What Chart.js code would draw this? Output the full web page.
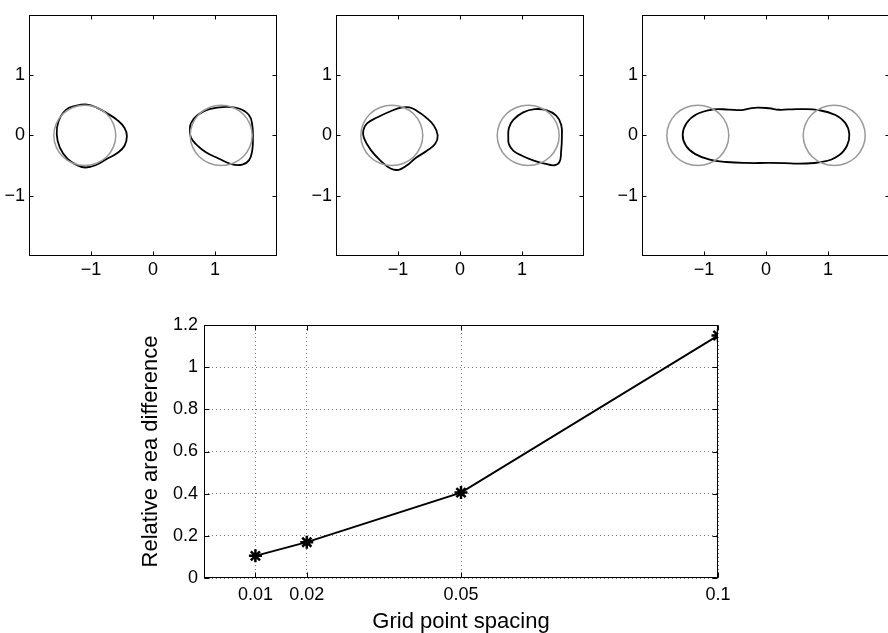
<!DOCTYPE html>
<html><head><meta charset="utf-8">
<script src="https://cdn.jsdelivr.net/npm/chart.js@4/dist/chart.umd.min.js"></script>
<style>
html,body{margin:0;padding:0;background:#fff;overflow:hidden;width:888px;height:633px;position:relative;}
canvas{position:absolute;}
</style></head><body>
<canvas id="p1" style="left:0px;top:0px" width="290" height="290"></canvas>
<canvas id="p2" style="left:307px;top:0px" width="290" height="290"></canvas>
<canvas id="p3" style="left:613px;top:0px" width="290" height="290"></canvas>
<canvas id="bottom" style="left:140px;top:300px" width="600" height="333"></canvas>
<script>
// ---------- data ----------
const panelTicks = [-1, 0, 1];

// reference circles (grey): centre ±1.1, radius 0.5
const circleLeft = [[-0.6,0],[-0.638,0.191],[-0.746,0.354],[-0.909,0.462],[-1.1,0.5],[-1.291,0.462],[-1.454,0.354],[-1.562,0.191],[-1.6,0],[-1.562,-0.191],[-1.454,-0.354],[-1.291,-0.462],[-1.1,-0.5],[-0.909,-0.462],[-0.746,-0.354],[-0.638,-0.191]];
const circleRight = [[1.6,0],[1.562,0.191],[1.454,0.354],[1.291,0.462],[1.1,0.5],[0.909,0.462],[0.746,0.354],[0.638,0.191],[0.6,0],[0.638,-0.191],[0.746,-0.354],[0.909,-0.462],[1.1,-0.5],[1.291,-0.462],[1.454,-0.354],[1.562,-0.191]];

// panel 1 computed shapes (black)
const shape1Left = [[-1.552,0.016],[-1.504,-0.199],[-1.381,-0.387],[-1.221,-0.495],[-1.088,-0.532],[-0.928,-0.495],[-0.741,-0.387],[-0.581,-0.296],[-0.459,-0.172],[-0.421,-0.011],[-0.459,0.124],[-0.581,0.258],[-0.741,0.366],[-0.901,0.457],[-1.061,0.511],[-1.248,0.489],[-1.408,0.42],[-1.525,0.23]];
const shape1Right = [[0.597,0.07],[0.613,-0.038],[0.693,-0.145],[0.853,-0.28],[1.067,-0.387],[1.28,-0.48],[1.44,-0.484],[1.547,-0.414],[1.6,-0.253],[1.611,-0.038],[1.6,0.177],[1.547,0.339],[1.387,0.446],[1.173,0.473],[0.907,0.435],[0.72,0.339],[0.613,0.205]];

// panel 2 computed shapes (black)
const shape2Left = [[-1.55,-0.04],[-1.44,-0.24],[-1.27,-0.43],[-1.12,-0.55],[-0.99,-0.57],[-0.86,-0.5],[-0.71,-0.37],[-0.54,-0.26],[-0.40,-0.14],[-0.36,0.0],[-0.42,0.16],[-0.55,0.3],[-0.7,0.41],[-0.82,0.465],[-0.95,0.46],[-1.12,0.4],[-1.33,0.3],[-1.5,0.2],[-1.56,0.08]];
const shape2Right = [[0.779,-0.038],[0.789,-0.145],[0.859,-0.253],[0.992,-0.333],[1.179,-0.414],[1.365,-0.468],[1.525,-0.495],[1.605,-0.441],[1.632,-0.253],[1.643,-0.038],[1.632,0.177],[1.552,0.328],[1.392,0.419],[1.205,0.435],[1.019,0.382],[0.859,0.258],[0.789,0.124]];

// panel 3 computed shape (black)
const shape3 = [[-1.344,0.016],[-1.291,-0.172],[-1.147,-0.306],[-0.907,-0.403],[-0.64,-0.441],[-0.32,-0.457],[0.053,-0.457],[0.3,-0.46],[0.533,-0.468],[0.906,-0.441],[1.173,-0.333],[1.306,-0.172],[1.344,0.016],[1.28,0.204],[1.12,0.339],[0.853,0.419],[0.533,0.435],[0.35,0.43],[0.213,0.425],[0.05,0.45],[-0.134,0.462],[-0.27,0.445],[-0.4,0.419],[-0.6,0.428],[-0.854,0.43],[-1.12,0.35],[-1.28,0.204]];

// bottom chart
const spacing = [0.01, 0.02, 0.05, 0.1];
const areaDiff = [0.105, 0.17, 0.405, 1.15];
const xTickLabels = ['0.01', '0.02', '0.05', '0.1'];
const yTickValues = [0, 0.2, 0.4, 0.6, 0.8, 1, 1.2];
const yTickLabels = ['0', '0.2', '0.4', '0.6', '0.8', '1', '1.2'];

// ---------- rendering ----------
const FONT = "'Liberation Sans', Arial, Helvetica, sans-serif";
Chart.defaults.color = '#000';
Chart.defaults.font.family = FONT;

const boxTicks = {
  id: 'boxTicks',
  afterDraw(chart, args, opts) {
    const {ctx, chartArea: a, scales: {x, y}} = chart;
    const L = opts.len || 4;
    const l = Math.round(a.left) + 0.5, r = Math.round(a.right) - 0.5;
    const t = Math.round(a.top) + 0.5, b = Math.round(a.bottom) - 0.5;
    ctx.save();
    ctx.strokeStyle = '#000';
    ctx.lineWidth = 1;
    ctx.setLineDash([]);
    ctx.beginPath();
    x.ticks.forEach(tk => {
      const p = Math.round(x.getPixelForValue(tk.value)) + 0.5;
      ctx.moveTo(p, b); ctx.lineTo(p, b - L);
      ctx.moveTo(p, t); ctx.lineTo(p, t + L);
    });
    y.ticks.forEach(tk => {
      const p = Math.round(y.getPixelForValue(tk.value)) + 0.5;
      ctx.moveTo(l, p); ctx.lineTo(l + L, p);
      ctx.moveTo(r, p); ctx.lineTo(r - L, p);
    });
    ctx.stroke();
    ctx.strokeRect(l, t, r - l, b - t);
    ctx.restore();
  }
};

function loopDataset(pts, color, width) {
  const ext = [pts[pts.length - 1], ...pts, pts[0], pts[1]];
  const data = ext.map(([x, y]) => ({x, y}));
  const last = data.length - 1;
  return {
    data, showLine: true, borderColor: color, borderWidth: width,
    pointRadius: 0, pointHoverRadius: 0, tension: 0.45, fill: false,
    segment: {borderColor: c => (c.p0DataIndex === 0 || c.p1DataIndex === last) ? 'rgba(0,0,0,0)' : color}
  };
}

const fmt = v => (v < 0 ? '\u2212' + Math.abs(v) : String(v));

function panel(id, circles, shapes) {
  const datasets = [];
  circles.forEach(c => datasets.push(loopDataset(c, '#9a9a9a', 1.5)));
  shapes.forEach(s => datasets.push(loopDataset(s, '#000', 1.8)));
  return new Chart(document.getElementById(id), {
    type: 'scatter',
    data: {datasets},
    options: {
      responsive: false, animation: false, devicePixelRatio: 1,
      layout: {padding: {top: 6, right: 13, left: 0, bottom: 0}},
      plugins: {legend: {display: false}, tooltip: {enabled: false}, boxTicks: {len: 4}},
      scales: {
        x: {
          type: 'linear', min: -2, max: 2,
          afterBuildTicks: s => { s.ticks = panelTicks.map(v => ({value: v})); },
          afterFit: s => { s.height = 34; },
          grid: {display: false, drawTicks: false}, border: {display: false},
          ticks: {padding: 3, font: {size: 18, family: FONT}, color: '#000', callback: v => fmt(v), maxRotation: 0}
        },
        y: {
          type: 'linear', min: -2, max: 2,
          afterBuildTicks: s => { s.ticks = panelTicks.map(v => ({value: v})); },
          afterFit: s => { s.width = 29; },
          grid: {display: false, drawTicks: false}, border: {display: false},
          ticks: {padding: 4, font: {size: 18, family: FONT}, color: '#000', callback: v => fmt(v)}
        }
      }
    },
    plugins: [boxTicks]
  });
}

panel('p1', [circleLeft, circleRight], [shape1Left, shape1Right]);
panel('p2', [circleLeft, circleRight], [shape2Left, shape2Right]);
panel('p3', [circleLeft, circleRight], [shape3]);

new Chart(document.getElementById('bottom'), {
  type: 'scatter',
  data: {datasets: [{
    data: spacing.map((x, i) => ({x, y: areaDiff[i]})),
    showLine: true, borderColor: '#000', borderWidth: 2, tension: 0,
    pointStyle: 'star', pointRadius: 6.5, pointBorderWidth: 2.5, pointBorderColor: '#000', pointBackgroundColor: '#000'
  }]},
  options: {
    responsive: false, animation: false, devicePixelRatio: 1,
    layout: {padding: {top: 25, right: 22, left: 0, bottom: 0}},
    plugins: {legend: {display: false}, tooltip: {enabled: false}, boxTicks: {len: 5}},
    scales: {
      x: {
        type: 'linear', min: 0, max: 0.1,
        afterBuildTicks: s => { s.ticks = spacing.map(v => ({value: v})); },
        afterFit: s => { s.height = 55; },
        grid: {display: true, drawTicks: false, color: '#777', lineWidth: 1},
        border: {display: false, dash: [1, 3]},
        ticks: {padding: 6, font: {size: 18, family: FONT}, color: '#000', maxRotation: 0, callback: (v, i) => xTickLabels[i]},
        title: {display: true, text: 'Grid point spacing', font: {size: 22, family: FONT, lineHeight: 1}, color: '#000', padding: 0}
      },
      y: {
        type: 'linear', min: 0, max: 1.2,
        afterBuildTicks: s => { s.ticks = yTickValues.map(v => ({value: v})); },
        afterFit: s => { s.width = 64; },
        grid: {display: true, drawTicks: false, color: '#777', lineWidth: 1},
        border: {display: false, dash: [1, 3]},
        ticks: {padding: 6, font: {size: 18, family: FONT}, color: '#000', callback: (v, i) => yTickLabels[i]},
        title: {display: true, text: 'Relative area difference', font: {size: 22, family: FONT, lineHeight: 1}, color: '#000', padding: 0}
      }
    }
  },
  plugins: [boxTicks]
});
</script>
</body></html>
